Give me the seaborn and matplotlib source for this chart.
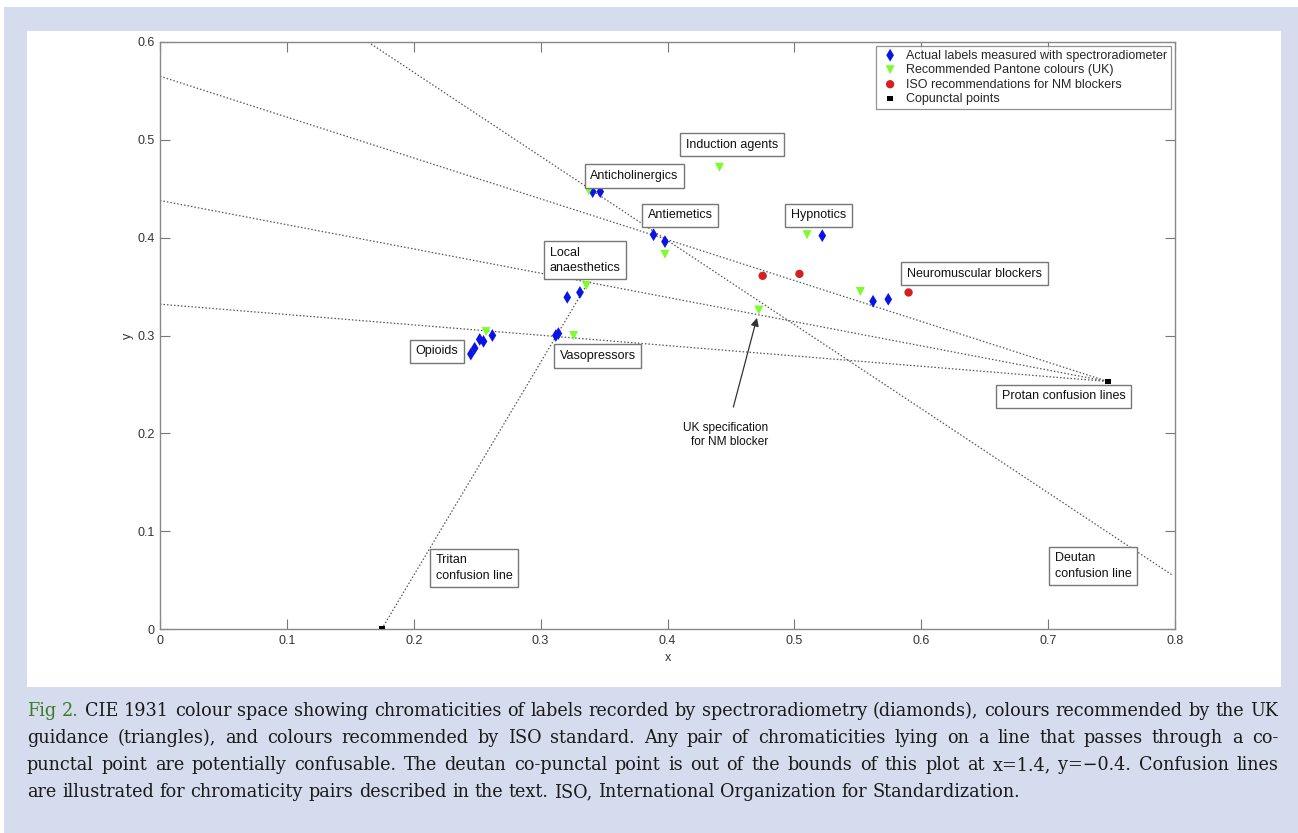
import matplotlib
matplotlib.use("Agg")
import matplotlib.pyplot as plt
from matplotlib.patches import Rectangle
import numpy as np
import pandas as pd
import seaborn as sns

# chromaticities
actual_x = [0.341, 0.347, 0.389, 0.398, 0.522, 0.562, 0.574, 0.321, 0.331,
            0.312, 0.314, 0.245, 0.248, 0.252, 0.255, 0.262]
actual_y = [0.447, 0.447, 0.403, 0.396, 0.402, 0.335, 0.337, 0.339, 0.344,
            0.300, 0.302, 0.281, 0.287, 0.296, 0.294, 0.300]
pantone_x = [0.338, 0.398, 0.336, 0.257, 0.326, 0.441, 0.510, 0.552, 0.472]
pantone_y = [0.448, 0.383, 0.351, 0.304, 0.300, 0.472, 0.403, 0.345, 0.326]
iso_x = [0.475, 0.504, 0.590]
iso_y = [0.361, 0.363, 0.344]
copunctal_x = [0.747, 0.1748]
copunctal_y = [0.253, 0.0]

# confusion lines (start, end)
protan_start_y = [0.565, 0.438, 0.332]
deutan_line_x = [0.164, 0.798]
deutan_line_y = [0.600, 0.055]
tritan_line_x = [0.1748, 0.336]
tritan_line_y = [0.0, 0.351]

legend_labels = ["Actual labels measured with spectroradiometer",
                 "Recommended Pantone colours (UK)",
                 "ISO recommendations for NM blockers",
                 "Copunctal points"]

caption_lines = [
    "Fig 2. CIE 1931 colour space showing chromaticities of labels recorded by spectroradiometry (diamonds), colours recommended by the UK",
    "guidance (triangles), and colours recommended by ISO standard. Any pair of chromaticities lying on a line that passes through a co-",
    "punctal point are potentially confusable. The deutan co-punctal point is out of the bounds of this plot at x=1.4, y=\u22120.4. Confusion lines",
    "are illustrated for chromaticity pairs described in the text. ISO, International Organization for Standardization.",
]

sns.set_theme(style="white")
plt.rcParams["font.family"] = ["Liberation Sans", "DejaVu Sans"]

W, H = 1298, 833
fig = plt.figure(figsize=(W / 100, H / 100), dpi=100)
fig.patch.set_facecolor("white")
fig.add_artist(Rectangle((4 / W, 0), 1 - 4 / W, 1 - 7 / H, transform=fig.transFigure,
                         fc="#d4dcee", ec="none", zorder=-10))
fig.add_artist(Rectangle((27 / W, 1 - 687 / H), 1254 / W, 656 / H, transform=fig.transFigure,
                         fc="white", ec="none", zorder=-9))

ax = fig.add_axes([160 / W, 1 - 629 / H, 1015 / W, 587 / H])
ax.set_facecolor("none")

# confusion lines
line_kw = dict(color="#555555", lw=0.9, linestyle=(0, (1.2, 1.6)), zorder=1)
for y0 in protan_start_y:
    ax.plot([0, copunctal_x[0]], [y0, copunctal_y[0]], **line_kw)
ax.plot(deutan_line_x, deutan_line_y, **line_kw)
ax.plot(tritan_line_x, tritan_line_y, **line_kw)

sns.scatterplot(x=actual_x, y=actual_y, marker="d", color="#0a14e6", s=42,
                edgecolor="none", label=legend_labels[0], ax=ax, zorder=3)
sns.scatterplot(x=pantone_x, y=pantone_y, marker="v", color="#7cfc2a", s=42,
                edgecolor="none", label=legend_labels[1], ax=ax, zorder=3)
sns.scatterplot(x=iso_x, y=iso_y, marker="o", color="#d42020", s=36,
                edgecolor="none", label=legend_labels[2], ax=ax, zorder=3)
sns.scatterplot(x=copunctal_x, y=copunctal_y, marker="s", color="black", s=16,
                edgecolor="none", label=legend_labels[3], ax=ax, zorder=3)

ax.set_xlim(0, 0.8)
ax.set_ylim(0, 0.6)
ax.set_xticks(np.arange(0, 0.81, 0.1))
ax.set_yticks(np.arange(0, 0.61, 0.1))
ax.set_xticklabels(["0"] + [f"{v:.1f}" for v in np.arange(0.1, 0.81, 0.1)])
ax.set_yticklabels(["0"] + [f"{v:.1f}" for v in np.arange(0.1, 0.61, 0.1)])
ax.tick_params(direction="in", length=7, width=0.8, colors="#777777",
               labelcolor="#333333", labelsize=9, top=True, right=True,
               bottom=True, left=True, pad=4)
for s in ax.spines.values():
    s.set_color("#888888")
    s.set_linewidth(1.0)
ax.set_xlabel("x", fontsize=9, color="#333333", labelpad=4)
ax.set_ylabel("y", fontsize=9, color="#333333", labelpad=2)

leg = ax.legend(loc="upper right", fontsize=9, frameon=True, fancybox=False,
                borderaxespad=0.3, handletextpad=0.5, labelspacing=0.2,
                borderpad=0.3, handlelength=1.6)
leg.get_frame().set_edgecolor("#777777")
leg.get_frame().set_linewidth(0.9)

box = dict(boxstyle="square,pad=0.45", fc="white", ec="#777777", lw=1.0)
labels = [("Induction agents", 0.451, 0.495), ("Anticholinergics", 0.374, 0.463),
          ("Antiemetics", 0.410, 0.423), ("Hypnotics", 0.519, 0.423),
          ("Neuromuscular blockers", 0.642, 0.363), ("Local\nanaesthetics", 0.335, 0.377),
          ("Opioids", 0.218, 0.284), ("Vasopressors", 0.345, 0.279),
          ("Protan confusion lines", 0.7125, 0.238), ("Tritan\nconfusion line", 0.2475, 0.0624),
          ("Deutan\nconfusion line", 0.7353, 0.0644)]
for txt, lx, ly in labels:
    ax.text(lx, ly, txt, ha="center", va="center", multialignment="left",
            fontsize=9, color="#111111", bbox=box, zorder=5, linespacing=1.35)

ax.annotate("UK specification\nfor NM blocker", xy=(0.4705, 0.318), xytext=(0.446, 0.198),
            ha="center", va="center", multialignment="right", fontsize=8.6, color="#111111",
            arrowprops=dict(arrowstyle="-|>", color="#333333", lw=0.9, mutation_scale=12,
                            shrinkA=9, shrinkB=0), zorder=5)

# caption, justified
renderer = fig.canvas.get_renderer()
cap_font = ["DejaVu Serif"]
probe = fig.text(0, 0, caption_lines[3], fontsize=12, family=cap_font)
w12 = probe.get_window_extent(renderer).width
probe.remove()
cap_size = 12 * 994 / w12
x_left, x_right = 27, 1278
baselines = [716, 743, 770, 797]
for i, line in enumerate(caption_lines):
    words = line.split(" ")
    arts = []
    for j, wd in enumerate(words):
        col = "#3f7a2a" if (i == 0 and j < 2) else "#1a1a1a"
        t = fig.text(0, 1 - baselines[i] / H, wd, fontsize=cap_size, family=cap_font,
                     color=col, va="baseline", ha="left")
        arts.append(t)
    widths = [a.get_window_extent(renderer).width for a in arts]
    if i < len(caption_lines) - 1:
        gap = (x_right - x_left - sum(widths)) / (len(words) - 1)
    else:
        sp = fig.text(0, 0, "a a", fontsize=cap_size, family=cap_font)
        sa = fig.text(0, 0, "aa", fontsize=cap_size, family=cap_font)
        gap = sp.get_window_extent(renderer).width - sa.get_window_extent(renderer).width
        sp.remove(); sa.remove()
    xpos = x_left
    for a, wdt in zip(arts, widths):
        a.set_x(xpos / W)
        xpos += wdt + gap

fig.savefig("out.png", dpi=100)
